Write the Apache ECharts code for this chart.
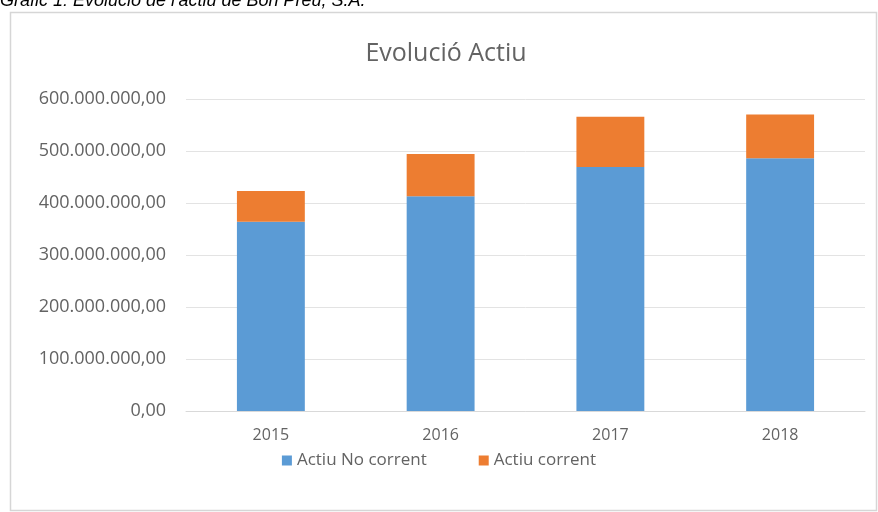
<!DOCTYPE html>
<html>
<head>
<meta charset="utf-8">
<script src="https://cdn.jsdelivr.net/npm/echarts@6/dist/echarts.min.js"></script>
<style>
  html, body { margin: 0; padding: 0; background: #fff; }
  #chart { width: 878px; height: 512px; }
</style>
</head>
<body>
<div id="chart"></div>
<script>
// dades llegides del gràfic
const anys = ["2015", "2016", "2017", "2018"];
const actiuNoCorrent = [364000000, 413000000, 469000000, 486000000];
const actiuCorrent = [59000000, 81000000, 97000000, 84000000];
const yTicks = [0, 100000000, 200000000, 300000000, 400000000, 500000000, 600000000];

const textColor = "#636363";
const fontFam = "'Open Sans', sans-serif";

// 600000000 -> "600.000.000,00"
function formatNum(v) {
  let s = Math.round(v).toString().replace(/\B(?=(\d{3})+(?!\d))/g, ".");
  return s + ",00";
}

const myChart = echarts.init(document.getElementById("chart"));

let option = {
  animation: false,
  title: {
    text: "Evolució Actiu",
    left: 441,
    textAlign: "center",
    top: 36,
    textStyle: {
      color: textColor,
      fontFamily: fontFam,
      fontSize: 25,
      fontWeight: "normal",
    },
  },
  graphic: [
    {
      type: "rect",
      shape: { x: 10.5, y: 12.5, width: 866, height: 498 },
      style: { fill: "none", stroke: "#d6d6d6", lineWidth: 1.5 },
      silent: true,
    },
    {
      type: "text",
      left: 0,
      top: -8,
      style: {
        text: "Gràfic 1: Evolució de l'actiu de Bon Preu, S.A.",
        fill: "#000",
        font: "italic 18px 'Liberation Sans', Arial, sans-serif",
      },
      silent: true,
    },
  ],
  legend: {
    data: ["Actiu No corrent", "Actiu corrent"],
    left: "center",
    top: 447,
    itemWidth: 10,
    itemHeight: 10,
    itemGap: 52,
    icon: "rect",
    textStyle: {
      color: textColor,
      fontFamily: fontFam,
      fontSize: 17,
    },
  },
  grid: {
    left: 186,
    right: 13,
    top: 99,
    bottom: 101,
  },
  xAxis: {
    type: "category",
    data: anys,
    axisLine: { lineStyle: { color: "#d9d9d9" } },
    axisTick: { show: false },
    axisLabel: {
      color: textColor,
      fontFamily: fontFam,
      fontSize: 16,
      margin: 16,
    },
  },
  yAxis: {
    type: "value",
    min: yTicks[0],
    max: yTicks[yTicks.length - 1],
    interval: yTicks[1] - yTicks[0],
    axisLine: { show: false },
    axisTick: { show: false },
    splitLine: { lineStyle: { color: "#e3e3e3" } },
    axisLabel: {
      color: textColor,
      fontFamily: fontFam,
      fontSize: 18,
      margin: 20,
      formatter: formatNum,
    },
  },
  series: [
    {
      name: "Actiu No corrent",
      type: "bar",
      stack: "actiu",
      data: actiuNoCorrent,
      barWidth: "40%",
      itemStyle: { color: "#5B9BD5" },
    },
    {
      name: "Actiu corrent",
      type: "bar",
      stack: "actiu",
      data: actiuCorrent,
      barWidth: "40%",
      itemStyle: { color: "#ED7D31" },
    },
  ],
};

myChart.setOption(option);
</script>
</body>
</html>
